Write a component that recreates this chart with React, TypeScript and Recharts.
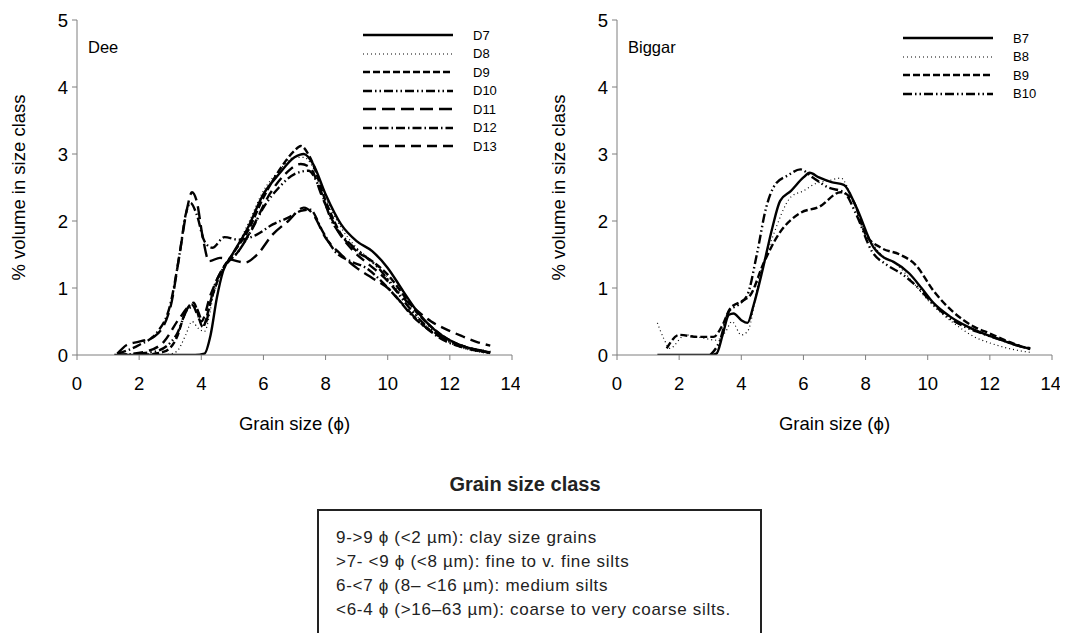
import React from "react";
import { Legend, Line, LineChart, XAxis, YAxis } from "recharts";

type Pt = [number, number];

const phiTicks = [0, 2, 4, 6, 8, 10, 12, 14];
const volTicks = [0, 1, 2, 3, 4, 5];

// Dee samples, [phi, % volume]
const D7: Pt[] = [[1.2, 0], [2, 0], [3, 0], [3.8, 0], [4.1, 0.02], [4.3, 0.3], [4.5, 0.85], [4.7, 1.25], [5, 1.5], [5.5, 1.9], [6, 2.4], [6.5, 2.7], [7, 2.95], [7.3, 3.0], [7.6, 2.85], [8, 2.4], [8.5, 1.95], [9, 1.7], [9.5, 1.55], [10, 1.3], [10.5, 0.95], [11, 0.62], [11.5, 0.38], [12, 0.22], [12.5, 0.12], [13, 0.06], [13.3, 0.03]];
const D8: Pt[] = [[2.8, 0], [3.2, 0.05], [3.5, 0.3], [3.7, 0.5], [3.9, 0.4], [4.1, 0.35], [4.4, 0.9], [4.7, 1.3], [5, 1.5], [5.5, 1.95], [6, 2.45], [6.5, 2.75], [7, 2.95], [7.3, 2.95], [7.7, 2.7], [8, 2.35], [8.5, 1.9], [9, 1.6], [9.5, 1.4], [10, 1.15], [10.5, 0.85], [11, 0.55], [11.5, 0.33], [12, 0.18], [12.5, 0.09], [13, 0.04], [13.3, 0.02]];
const D9: Pt[] = [[2.1, 0], [2.8, 0.05], [3.2, 0.25], [3.5, 0.65], [3.75, 0.78], [4.05, 0.42], [4.3, 0.8], [4.6, 1.2], [5, 1.5], [5.5, 1.85], [6, 2.35], [6.5, 2.75], [7, 3.05], [7.2, 3.12], [7.5, 2.95], [8, 2.3], [8.5, 1.8], [9, 1.55], [9.5, 1.4], [10, 1.2], [10.5, 0.9], [11, 0.6], [11.5, 0.38], [12, 0.22], [12.5, 0.12], [13, 0.06], [13.3, 0.04]];
const D10: Pt[] = [[1.3, 0], [2.5, 0.05], [3.2, 0.3], [3.6, 0.7], [3.8, 0.72], [4.1, 0.45], [4.4, 1.0], [4.8, 1.35], [5.2, 1.55], [5.6, 1.85], [6, 2.2], [6.5, 2.5], [7, 2.7], [7.45, 2.75], [7.8, 2.5], [8.2, 2.0], [8.7, 1.7], [9.2, 1.5], [9.7, 1.3], [10.2, 1.0], [10.7, 0.7], [11.2, 0.45], [11.7, 0.28], [12.2, 0.16], [12.8, 0.08], [13.3, 0.04]];
const D11: Pt[] = [[1.3, 0.02], [1.6, 0.15], [2, 0.2], [2.5, 0.28], [3, 0.7], [3.3, 1.5], [3.55, 2.2], [3.7, 2.43], [3.85, 2.3], [4.05, 1.75], [4.25, 1.4], [4.6, 1.45], [5, 1.42], [5.4, 1.38], [5.8, 1.5], [6.3, 1.8], [6.8, 2.0], [7.3, 2.2], [7.6, 2.1], [8, 1.75], [8.5, 1.5], [9, 1.3], [9.5, 1.15], [10, 1.0], [10.5, 0.75], [11, 0.5], [11.5, 0.32], [12, 0.2], [12.5, 0.12], [13, 0.07], [13.3, 0.05]];
const D12: Pt[] = [[1.3, 0.02], [2, 0.15], [2.6, 0.35], [3, 0.75], [3.3, 1.5], [3.5, 2.1], [3.65, 2.27], [3.85, 2.1], [4.1, 1.7], [4.35, 1.6], [4.75, 1.76], [5.2, 1.72], [5.8, 1.8], [6.3, 1.95], [6.8, 2.05], [7.2, 2.15], [7.5, 2.17], [7.9, 1.85], [8.3, 1.55], [8.8, 1.4], [9.3, 1.3], [9.8, 1.1], [10.3, 0.85], [10.8, 0.58], [11.3, 0.38], [11.8, 0.22], [12.3, 0.13], [12.8, 0.07], [13.3, 0.04]];
const D13: Pt[] = [[1.3, 0], [2.2, 0.05], [2.8, 0.2], [3.3, 0.55], [3.7, 0.75], [4.0, 0.5], [4.3, 0.9], [4.7, 1.3], [5.2, 1.55], [5.7, 1.95], [6.2, 2.4], [6.7, 2.7], [7.2, 2.85], [7.5, 2.8], [7.9, 2.35], [8.4, 1.85], [8.9, 1.55], [9.4, 1.35], [9.9, 1.15], [10.4, 0.9], [10.9, 0.68], [11.4, 0.5], [11.9, 0.38], [12.4, 0.28], [12.9, 0.19], [13.3, 0.14]];

// Biggar samples
const B7: Pt[] = [[1.3, 0], [2, 0], [3, 0], [3.2, 0.02], [3.4, 0.3], [3.6, 0.6], [3.75, 0.62], [4, 0.52], [4.2, 0.48], [4.4, 0.75], [4.7, 1.3], [5, 1.9], [5.25, 2.3], [5.6, 2.45], [6, 2.65], [6.2, 2.72], [6.5, 2.65], [6.9, 2.58], [7.3, 2.54], [7.7, 2.21], [8.25, 1.61], [8.6, 1.45], [8.9, 1.39], [9.4, 1.22], [9.8, 1.0], [10.2, 0.77], [10.7, 0.58], [11.3, 0.42], [11.8, 0.32], [12.4, 0.22], [12.9, 0.14], [13.3, 0.09]];
const B8: Pt[] = [[1.3, 0.48], [1.5, 0.25], [1.7, 0.1], [2.2, 0.3], [2.8, 0.25], [3.2, 0.22], [3.5, 0.35], [3.7, 0.5], [4, 0.3], [4.2, 0.35], [4.6, 1.2], [5.0, 1.75], [5.6, 2.36], [6.0, 2.45], [6.4, 2.56], [6.8, 2.6], [7.2, 2.64], [7.6, 2.3], [8, 1.85], [8.5, 1.5], [9, 1.35], [9.5, 1.1], [10, 0.82], [10.5, 0.6], [11, 0.42], [11.5, 0.27], [12, 0.18], [12.5, 0.11], [13, 0.06], [13.3, 0.04]];
const B9: Pt[] = [[1.6, 0.1], [2.0, 0.3], [2.6, 0.27], [3.1, 0.27], [3.4, 0.45], [3.65, 0.7], [4.0, 0.8], [4.3, 0.9], [4.7, 1.35], [5.2, 1.8], [5.9, 2.12], [6.5, 2.21], [7.2, 2.43], [7.6, 2.3], [8.0, 1.8], [8.5, 1.6], [9.1, 1.5], [9.6, 1.35], [10.2, 0.95], [10.8, 0.65], [11.5, 0.42], [12, 0.32], [12.5, 0.22], [13, 0.13], [13.3, 0.1]];
const B10: Pt[] = [[3.0, 0], [3.3, 0.2], [3.6, 0.65], [3.9, 0.75], [4.2, 0.9], [4.5, 1.5], [4.8, 2.2], [5.1, 2.55], [5.5, 2.68], [5.9, 2.77], [6.3, 2.65], [6.8, 2.5], [7.3, 2.43], [7.7, 2.1], [8.2, 1.55], [8.7, 1.34], [9.2, 1.2], [9.7, 1.0], [10.2, 0.75], [10.7, 0.55], [11.2, 0.42], [11.7, 0.33], [12.2, 0.25], [12.7, 0.17], [13.3, 0.09]];

const classLines = [
  "9->9 ϕ (<2 µm): clay size grains",
  ">7- <9 ϕ (<8 µm): fine to v. fine silts",
  "6-<7 ϕ (8– <16 µm): medium silts",
  "<6-4 ϕ (>16–63 µm): coarse to very coarse silts.",
];

type Series = { name: string; points: Pt[]; dash?: string; width: number };

const solid = { width: 2.4 };
const dotted = { dash: "1 3", width: 1.2 };
const shortDash = { dash: "7 3", width: 2.4 };
const dashDotDot = { dash: "9 3 1.5 3 1.5 3", width: 2.4 };
const longDash = { dash: "13 6", width: 2.4 };
const dashDot = { dash: "9 3 1.5 3", width: 2.4 };
const medDash = { dash: "10 6", width: 2.4 };

const deeSeries: Series[] = [
  { name: "D7", points: D7, ...solid },
  { name: "D8", points: D8, ...dotted },
  { name: "D9", points: D9, ...shortDash },
  { name: "D10", points: D10, ...dashDotDot },
  { name: "D11", points: D11, ...longDash },
  { name: "D12", points: D12, ...dashDot },
  { name: "D13", points: D13, ...medDash },
];

const biggarSeries: Series[] = [
  { name: "B7", points: B7, ...solid },
  { name: "B8", points: B8, ...dotted },
  { name: "B9", points: B9, ...shortDash },
  { name: "B10", points: B10, ...dashDotDot },
];

const font = "'Liberation Sans', Arial, sans-serif";
const axisGrey = "#7f7f7f";

function LegendRows({ series }: { series: Series[] }) {
  return (
    <div style={{ fontFamily: font, fontSize: 13, color: "#000" }}>
      {series.map((s) => (
        <div key={s.name} style={{ display: "flex", alignItems: "center", height: 18.5 }}>
          <svg width={90} height={10} style={{ display: "block" }}>
            <line x1={0} y1={5} x2={90} y2={5} stroke="#000" strokeWidth={s.width} strokeDasharray={s.dash} />
          </svg>
          <span style={{ marginLeft: 20 }}>{s.name}</span>
        </div>
      ))}
    </div>
  );
}

function GrainChart({ series, site, legendTop }: { series: Series[]; site: string; legendTop: number }) {
  return (
    <div style={{ position: "relative", width: 520, height: 445 }}>
      <LineChart width={520} height={445} margin={{ top: 20, right: 8, left: 0, bottom: 0 }}>
        <XAxis
          type="number"
          dataKey="x"
          domain={[0, 14]}
          ticks={phiTicks}
          allowDataOverflow
          height={90}
          stroke={axisGrey}
          tickSize={5}
          tickMargin={17}
          tick={{ fill: "#000", fontSize: 18.5, fontFamily: font }}
          label={{ value: "Grain size (ϕ)", position: "insideBottom", offset: 15, fill: "#000", fontSize: 18.5, fontFamily: font }}
        />
        <XAxis xAxisId="top" orientation="top" type="number" domain={[0, 14]} height={0} tick={false} tickLine={false} stroke={axisGrey} />
        <YAxis
          type="number"
          domain={[0, 5]}
          ticks={volTicks}
          allowDataOverflow
          width={77}
          stroke={axisGrey}
          tickSize={5}
          tickMargin={4}
          tick={{ fill: "#000", fontSize: 18.5, fontFamily: font }}
          label={{ value: "% volume in size class", angle: -90, position: "insideLeft", offset: 18, fill: "#000", fontSize: 18.5, fontFamily: font, style: { textAnchor: "middle" } }}
        />
        <YAxis yAxisId="right" orientation="right" type="number" domain={[0, 5]} width={0} tick={false} tickLine={false} stroke={axisGrey} />
        <Legend
          layout="horizontal"
          verticalAlign="middle"
          align="center"
          wrapperStyle={{ left: 363, top: legendTop, width: 150 }}
          content={() => <LegendRows series={series} />}
        />
        {series.map((s) => (
          <Line
            key={s.name}
            name={s.name}
            data={s.points.map(([x, y]) => ({ x, y }))}
            dataKey="y"
            type="monotone"
            stroke="#000"
            strokeWidth={s.width}
            strokeDasharray={s.dash}
            dot={false}
            activeDot={false}
            isAnimationActive={false}
          />
        ))}
      </LineChart>
      <div style={{ position: "absolute", left: 88, top: 38, fontFamily: font, fontSize: 16.5 }}>{site}</div>
    </div>
  );
}

export default function App() {
  return (
    <div style={{ position: "absolute", left: 0, top: 0, width: 1071, height: 633, overflow: "hidden", background: "#fff" }}>
      <div style={{ position: "absolute", left: 0, top: 0 }}>
        <GrainChart series={deeSeries} site="Dee" legendTop={26} />
      </div>
      <div style={{ position: "absolute", left: 540, top: 0 }}>
        <GrainChart series={biggarSeries} site="Biggar" legendTop={29} />
      </div>
      <div style={{ position: "absolute", left: 325, top: 473, width: 400, textAlign: "center", fontFamily: font, fontSize: 20, fontWeight: "bold", color: "#222" }}>
        Grain size class
      </div>
      <div style={{ position: "absolute", left: 317, top: 509, width: 441, height: 140, border: "2px solid #222", fontFamily: font, fontSize: 17, letterSpacing: 0.7, color: "#222" }}>
        <div style={{ paddingLeft: 17, paddingTop: 15 }}>
          {classLines.map((t) => (
            <div key={t} style={{ height: 24, lineHeight: "24px", whiteSpace: "nowrap" }}>{t}</div>
          ))}
        </div>
      </div>
    </div>
  );
}
